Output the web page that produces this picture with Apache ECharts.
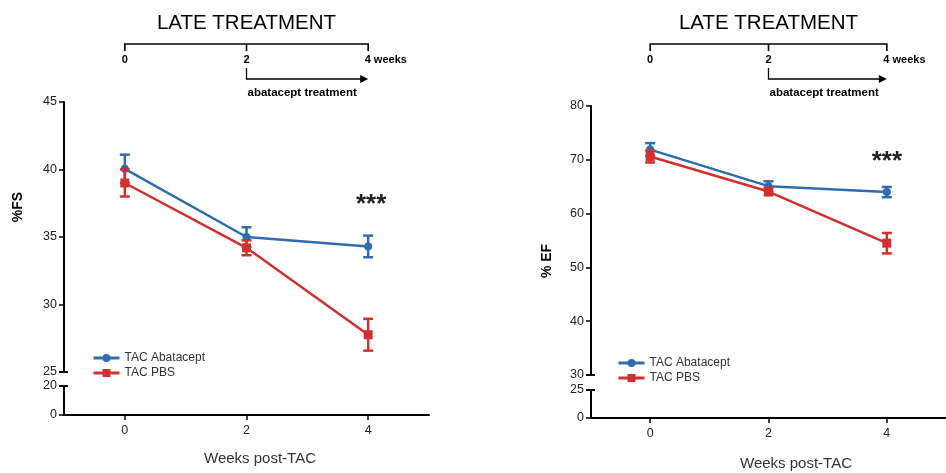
<!DOCTYPE html>
<html>
<head>
<meta charset="utf-8">
<script src="https://cdn.jsdelivr.net/npm/echarts@6/dist/echarts.min.js"></script>
<style>
  html, body { margin: 0; padding: 0; background: #fff; }
  #chart { width: 946px; height: 473px; }
</style>
</head>
<body>
<div id="chart"></div>
<script>
// Time points (weeks post-TAC)
const weeks = [0, 2, 4];
const weekTicks = [0, 2, 4];

// Fractional shortening (%FS), mean and SEM
const fsAbatacept = [40.05, 35.0, 34.3];
const fsAbataceptSem = [1.05, 0.72, 0.8];
const fsPbs = [39.0, 34.2, 27.76];
const fsPbsSem = [1.0, 0.55, 1.18];

// Ejection fraction (% EF), mean and SEM
const efAbatacept = [71.9, 65.1, 64.0];
const efAbataceptSem = [1.2, 0.9, 0.95];
const efPbs = [70.6, 64.1, 54.5];
const efPbsSem = [1.1, 0.7, 1.9];

// Broken y-axis segments: [min, max, interval] for the upper and lower parts
const fsUpper = [25, 45, 5];
const fsLower = [0, 20, 20];
const efUpper = [30, 80, 10];
const efLower = [0, 25, 25];

const seriesNames = ['TAC Abatacept', 'TAC PBS'];
const BLUE = '#2f6cad';
const RED = '#d1302e';
const FONT = 'Liberation Sans, Arial, sans-serif';

const chart = echarts.init(document.getElementById('chart'), null, { renderer: 'canvas' });

function pairs(values) { return weeks.map((w, i) => [w, values[i]]); }
function errPairs(values, sem) { return weeks.map((w, i) => [w, values[i] - sem[i], values[i] + sem[i]]); }

function renderErrorBar(params, api) {
  const x = api.value(0);
  const top = api.coord([x, api.value(2)]);
  const bot = api.coord([x, api.value(1)]);
  const half = 5;
  const style = { stroke: api.visual('color'), lineWidth: 2.5, fill: null };
  return {
    type: 'group',
    children: [
      { type: 'line', shape: { x1: top[0], y1: top[1], x2: bot[0], y2: bot[1] }, style },
      { type: 'line', shape: { x1: top[0] - half, y1: top[1], x2: top[0] + half, y2: top[1] }, style },
      { type: 'line', shape: { x1: bot[0] - half, y1: bot[1], x2: bot[0] + half, y2: bot[1] }, style }
    ]
  };
}

const axisLineStyle = { color: '#000', width: 2 };
const tickStyle = { color: '#000', width: 1.5 };
const labelStyle = { color: '#222', fontSize: 12.5, fontFamily: FONT };

function yAxisFor(gridIndex, seg) {
  return {
    type: 'value', gridIndex,
    min: seg[0], max: seg[1], interval: seg[2],
    axisLine: { show: true, onZero: false, lineStyle: axisLineStyle },
    axisTick: { show: true, length: 5, lineStyle: tickStyle },
    axisLabel: Object.assign({ margin: 7 }, labelStyle),
    splitLine: { show: false }
  };
}

function xAxisFor(gridIndex, visible) {
  return {
    type: 'value', gridIndex, min: -1, max: 5,
    show: visible,
    axisLine: { show: true, onZero: false, lineStyle: axisLineStyle },
    axisTick: { show: true, length: 5, lineStyle: tickStyle, customValues: weekTicks },
    axisLabel: Object.assign({ margin: 9, customValues: weekTicks }, labelStyle),
    splitLine: { show: false }
  };
}

function panelSeries(axisIndex, aba, abaSem, pbs, pbsSem) {
  return [
    {
      name: 'SEM Abatacept', type: 'custom', xAxisIndex: axisIndex, yAxisIndex: axisIndex,
      itemStyle: { color: BLUE }, renderItem: renderErrorBar, data: errPairs(aba, abaSem), z: 2
    },
    {
      name: seriesNames[0], type: 'line', xAxisIndex: axisIndex, yAxisIndex: axisIndex,
      data: pairs(aba), symbol: 'circle', symbolSize: 8,
      itemStyle: { color: BLUE }, lineStyle: { color: BLUE, width: 2.5 }, z: 3
    },
    {
      name: 'SEM PBS', type: 'custom', xAxisIndex: axisIndex, yAxisIndex: axisIndex,
      itemStyle: { color: RED }, renderItem: renderErrorBar, data: errPairs(pbs, pbsSem), z: 4
    },
    {
      name: seriesNames[1], type: 'line', xAxisIndex: axisIndex, yAxisIndex: axisIndex,
      data: pairs(pbs), symbol: 'rect', symbolSize: 9,
      itemStyle: { color: RED }, lineStyle: { color: RED, width: 2.5 }, z: 5
    }
  ];
}

function legendAt(left, top) {
  return {
    data: seriesNames, orient: 'vertical', left, top,
    itemWidth: 26, itemHeight: 10, itemGap: 3,
    selectedMode: false,
    lineStyle: { width: 3 },
    textStyle: { fontSize: 12, color: '#333', fontFamily: FONT }
  };
}

chart.setOption({
  animation: false,
  textStyle: { fontFamily: FONT },
  grid: [
    { left: 64, top: 102, width: 365, height: 270 },   // FS upper
    { left: 64, top: 386, width: 365, height: 29 },    // FS lower
    { left: 591, top: 106, width: 365, height: 269 },  // EF upper
    { left: 591, top: 390, width: 365, height: 28 }    // EF lower
  ],
  xAxis: [xAxisFor(0, false), xAxisFor(1, true), xAxisFor(2, false), xAxisFor(3, true)],
  yAxis: [yAxisFor(0, fsUpper), yAxisFor(1, fsLower), yAxisFor(2, efUpper), yAxisFor(3, efLower)],
  legend: [legendAt(87, 347), legendAt(612, 352)],
  series: [].concat(
    panelSeries(0, fsAbatacept, fsAbataceptSem, fsPbs, fsPbsSem),
    panelSeries(2, efAbatacept, efAbataceptSem, efPbs, efPbsSem)
  )
});

// Annotations placed relative to the axes: timeline diagram, titles, significance stars, axis breaks
function px(axisIndex, week) { return chart.convertToPixel({ xAxisIndex: axisIndex }, week); }
function py(axisIndex, v) { return chart.convertToPixel({ yAxisIndex: axisIndex }, v); }

function textEl(x, y, text, opts) {
  return {
    type: 'text', x, y, rotation: opts.rotation || 0, silent: true,
    style: {
      text, fill: opts.color || '#000',
      font: (opts.weight || 'normal') + ' ' + opts.size + 'px ' + FONT,
      textAlign: opts.align || 'center', textVerticalAlign: 'middle'
    }
  };
}
function lineEl(points, width) {
  return { type: 'polyline', silent: true, shape: { points }, style: { stroke: '#000', lineWidth: width, fill: null } };
}

function timeline(axisIndex) {
  const x0 = px(axisIndex, weekTicks[0]), x2 = px(axisIndex, weekTicks[1]), x4 = px(axisIndex, weekTicks[2]);
  return [
    textEl(x2, 23, 'LATE TREATMENT', { size: 20.5 }),
    lineEl([[x0, 51], [x0, 44], [x4, 44], [x4, 51]], 1.6),
    lineEl([[x2, 44], [x2, 51]], 1.6),
    textEl(x0, 60, '0', { size: 11, weight: 'bold' }),
    textEl(x2, 60, '2', { size: 11, weight: 'bold' }),
    textEl(x4 - 3.5, 60, '4 weeks', { size: 11, weight: 'bold', align: 'left' }),
    lineEl([[x2, 68], [x2, 79], [x4 - 6, 79]], 1.3),
    { type: 'polygon', silent: true, shape: { points: [[x4 - 8, 75], [x4, 79], [x4 - 8, 83]] }, style: { fill: '#000' } },
    textEl(x2 + 1, 93, 'abatacept treatment', { size: 11.5, weight: 'bold', align: 'left' })
  ];
}

function axisBreak(upperIdx, lowerIdx, upperSeg, lowerSeg) {
  const ax = px(upperIdx, -1);
  const yTop = py(upperIdx, upperSeg[0]);
  const yBot = py(lowerIdx, lowerSeg[1]);
  return [
    lineEl([[ax - 5, yTop], [ax + 4, yTop]], 2),
    lineEl([[ax - 5, yBot], [ax + 4, yBot]], 2)
  ];
}

const graphics = [].concat(
  timeline(0),
  timeline(2),
  axisBreak(0, 1, fsUpper, fsLower),
  axisBreak(2, 3, efUpper, efLower),
  [
    textEl(18, 207, '%FS', { size: 14, weight: 'bold', rotation: Math.PI / 2 }),
    textEl(547, 261, '% EF', { size: 14, weight: 'bold', rotation: Math.PI / 2 }),
    textEl(260, 459, 'Weeks post-TAC', { size: 15, color: '#333' }),
    textEl(796, 464, 'Weeks post-TAC', { size: 15, color: '#333' }),
    textEl(px(0, 4) + 3, 205, '***', { size: 26, weight: 'bold', color: '#222' }),
    textEl(px(2, 4) + 0, 162, '***', { size: 26, weight: 'bold', color: '#222' })
  ]
);

chart.setOption({ graphic: graphics });
</script>
</body>
</html>
